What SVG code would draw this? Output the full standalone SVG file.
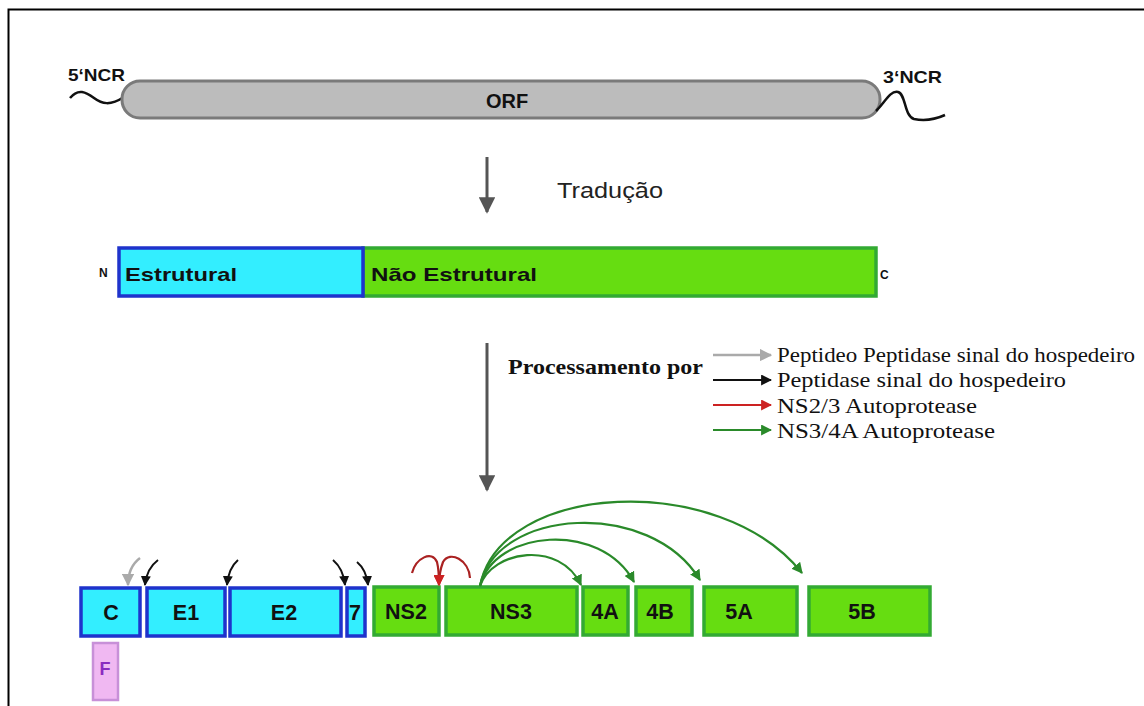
<svg xmlns="http://www.w3.org/2000/svg" width="1144" height="706" viewBox="0 0 1144 706">
<defs>
<style>
.sans{font-family:"Liberation Sans",Arial,sans-serif;font-weight:bold;fill:#111}
.serif{font-family:"Liberation Serif","Times New Roman",serif;fill:#111}
.cy{fill:#33eeff;stroke:#1f33cc;stroke-width:3.5}
.gr{fill:#66dd11;stroke:#33aa33;stroke-width:3.5}
.lbl{font-family:"Liberation Sans",Arial,sans-serif;font-weight:bold;font-size:21.5px;fill:#111;text-anchor:middle}
.wave{fill:none;stroke:#111;stroke-width:2.5}
</style>
<marker id="hGray" viewBox="0 0 10 10" refX="9" refY="5" markerWidth="5" markerHeight="5" orient="auto"><path d="M0,0 L10,5 L0,10 z" fill="#aaa"/></marker>
<marker id="hBlack" viewBox="0 0 10 10" refX="9" refY="5" markerWidth="5" markerHeight="5" orient="auto"><path d="M0,0 L10,5 L0,10 z" fill="#111"/></marker>
<marker id="hRed" viewBox="0 0 10 10" refX="9" refY="5" markerWidth="5" markerHeight="5" orient="auto"><path d="M0,0 L10,5 L0,10 z" fill="#cc2222"/></marker>
<marker id="hGreen" viewBox="0 0 10 10" refX="9" refY="5" markerWidth="5" markerHeight="5" orient="auto"><path d="M0,0 L10,5 L0,10 z" fill="#2a8a2a"/></marker>
<marker id="hDark" viewBox="0 0 10 10" refX="9" refY="5" markerWidth="5.5" markerHeight="5.5" orient="auto"><path d="M0,0 L10,5 L0,10 z" fill="#555"/></marker>
</defs>
<rect width="1144" height="706" fill="#fff"/>
<path d="M8.5,706 L8.5,9.5 L1144,9.5" fill="none" stroke="#000" stroke-width="2"/>

<g id="rna">
<path class="wave" d="M70,98 C78,88 86,92 94,98 C102,104 110,106 124,97"/>
<rect x="122" y="81" width="758" height="37" rx="18" fill="#bcbcbc" stroke="#7a7a7a" stroke-width="3"/>
<path class="wave" d="M876,111 C884,104 890,90 898,92 C906,94 904,116 914,119 C924,121 934,120 945,115"/>
<text class="sans" x="68" y="81" font-size="17" textLength="57" lengthAdjust="spacingAndGlyphs">5‘NCR</text>
<text class="sans" x="883" y="83" font-size="17" textLength="59" lengthAdjust="spacingAndGlyphs">3‘NCR</text>
<text class="sans" x="507" y="108" font-size="20" text-anchor="middle" fill="#222">ORF</text>
</g>

<g id="traducao">
<line x1="487" y1="157" x2="487" y2="212" stroke="#555" stroke-width="3" marker-end="url(#hDark)"/>
<text x="557" y="198" font-family="Liberation Sans,Arial,sans-serif" font-size="22" fill="#222" textLength="106" lengthAdjust="spacingAndGlyphs">Tradução</text>
</g>

<g id="poliproteina">
<rect class="gr" x="363" y="248" width="513" height="48"/>
<rect class="cy" x="119" y="248" width="244" height="48"/>
<text class="sans" x="99" y="277" font-size="12">N</text>
<text class="sans" x="880" y="279" font-size="12">C</text>
<text class="sans" x="125" y="281" font-size="19" textLength="112" lengthAdjust="spacingAndGlyphs">Estrutural</text>
<text class="sans" x="371" y="281" font-size="19" textLength="166" lengthAdjust="spacingAndGlyphs">Não Estrutural</text>
</g>

<g id="processamento">
<line x1="487" y1="343" x2="487" y2="490" stroke="#555" stroke-width="3" marker-end="url(#hDark)"/>
<text class="serif" x="508" y="374" font-size="21" font-weight="bold" textLength="195" lengthAdjust="spacingAndGlyphs">Processamento por</text>
</g>

<g id="legenda">
<line x1="713" y1="355" x2="771" y2="355" stroke="#aaa" stroke-width="2.5" marker-end="url(#hGray)"/>
<line x1="713" y1="380" x2="771" y2="380" stroke="#111" stroke-width="2.2" marker-end="url(#hBlack)"/>
<line x1="713" y1="405" x2="771" y2="405" stroke="#cc2222" stroke-width="2.2" marker-end="url(#hRed)"/>
<line x1="713" y1="430" x2="771" y2="430" stroke="#2a8a2a" stroke-width="2.2" marker-end="url(#hGreen)"/>
<text class="serif" x="777" y="362" font-size="22" textLength="358" lengthAdjust="spacingAndGlyphs">Peptideo Peptidase sinal do hospedeiro</text>
<text class="serif" x="777" y="387" font-size="22" textLength="289" lengthAdjust="spacingAndGlyphs">Peptidase sinal do hospedeiro</text>
<text class="serif" x="777" y="413" font-size="22" textLength="200" lengthAdjust="spacingAndGlyphs">NS2/3 Autoprotease</text>
<text class="serif" x="777" y="438" font-size="22" textLength="218" lengthAdjust="spacingAndGlyphs">NS3/4A Autoprotease</text>
</g>

<g id="C"><rect class="cy" x="81" y="588" width="59" height="48"/><text class="lbl" x="111" y="620">C</text></g>
<g id="E1"><rect class="cy" x="147" y="588" width="78" height="48"/><text class="lbl" x="186" y="620">E1</text></g>
<g id="E2"><rect class="cy" x="230" y="588" width="111" height="48"/><text class="lbl" x="284" y="620">E2</text></g>
<g id="p7"><rect class="cy" x="347" y="588" width="18" height="48"/><text class="lbl" x="355" y="620">7</text></g>
<g id="NS2"><rect class="gr" x="374" y="587" width="65" height="48"/><text class="lbl" x="406" y="619">NS2</text></g>
<g id="NS3"><rect class="gr" x="446" y="587" width="131" height="48"/><text class="lbl" x="511" y="619">NS3</text></g>
<g id="NS4A"><rect class="gr" x="583" y="587" width="45" height="48"/><text class="lbl" x="605" y="619">4A</text></g>
<g id="NS4B"><rect class="gr" x="636" y="587" width="56" height="48"/><text class="lbl" x="660" y="619">4B</text></g>
<g id="NS5A"><rect class="gr" x="704" y="587" width="93" height="48"/><text class="lbl" x="739" y="619">5A</text></g>
<g id="NS5B"><rect class="gr" x="809" y="587" width="121" height="48"/><text class="lbl" x="862" y="619">5B</text></g>
<g id="F"><rect x="93" y="643" width="25" height="57" fill="#f0b8f2" stroke="#c890d8" stroke-width="2.5"/><text class="lbl" x="105" y="675" style="font-size:18px;fill:#8a2cc0">F</text></g>

<g id="connectors" fill="none">
<path d="M140,558 C132,564 128,572 128,585" stroke="#aaa" stroke-width="2.5" marker-end="url(#hGray)"/>
<path d="M158,560 C150,566 146,574 145,585" stroke="#111" stroke-width="2" marker-end="url(#hBlack)"/>
<path d="M238,560 C231,566 228,574 227,585" stroke="#111" stroke-width="2" marker-end="url(#hBlack)"/>
<path d="M333,560 C340,566 344,574 345,585" stroke="#111" stroke-width="2" marker-end="url(#hBlack)"/>
<path d="M357,562 C363,567 367,575 368,585" stroke="#111" stroke-width="2" marker-end="url(#hBlack)"/>
<path d="M412,573 C416,558 432,550 437,562 C439,570 439,578 439,585" stroke="#aa2222" stroke-width="2.2" marker-end="url(#hRed)"/>
<path d="M470,578 C469,560 450,550 443,562 C440,570 439,578 439,585" stroke="#aa2222" stroke-width="2.2" marker-end="url(#hRed)"/>
<path d="M480,586 C492,550 560,540 581,585" stroke="#2a8a2a" stroke-width="2.2" marker-end="url(#hGreen)"/>
<path d="M480,586 C494,530 600,520 634,582" stroke="#2a8a2a" stroke-width="2.2" marker-end="url(#hGreen)"/>
<path d="M480,586 C496,508 650,498 700,580" stroke="#2a8a2a" stroke-width="2.2" marker-end="url(#hGreen)"/>
<path d="M480,586 C500,482 720,470 802,573" stroke="#2a8a2a" stroke-width="2.2" marker-end="url(#hGreen)"/>
</g>
</svg>
